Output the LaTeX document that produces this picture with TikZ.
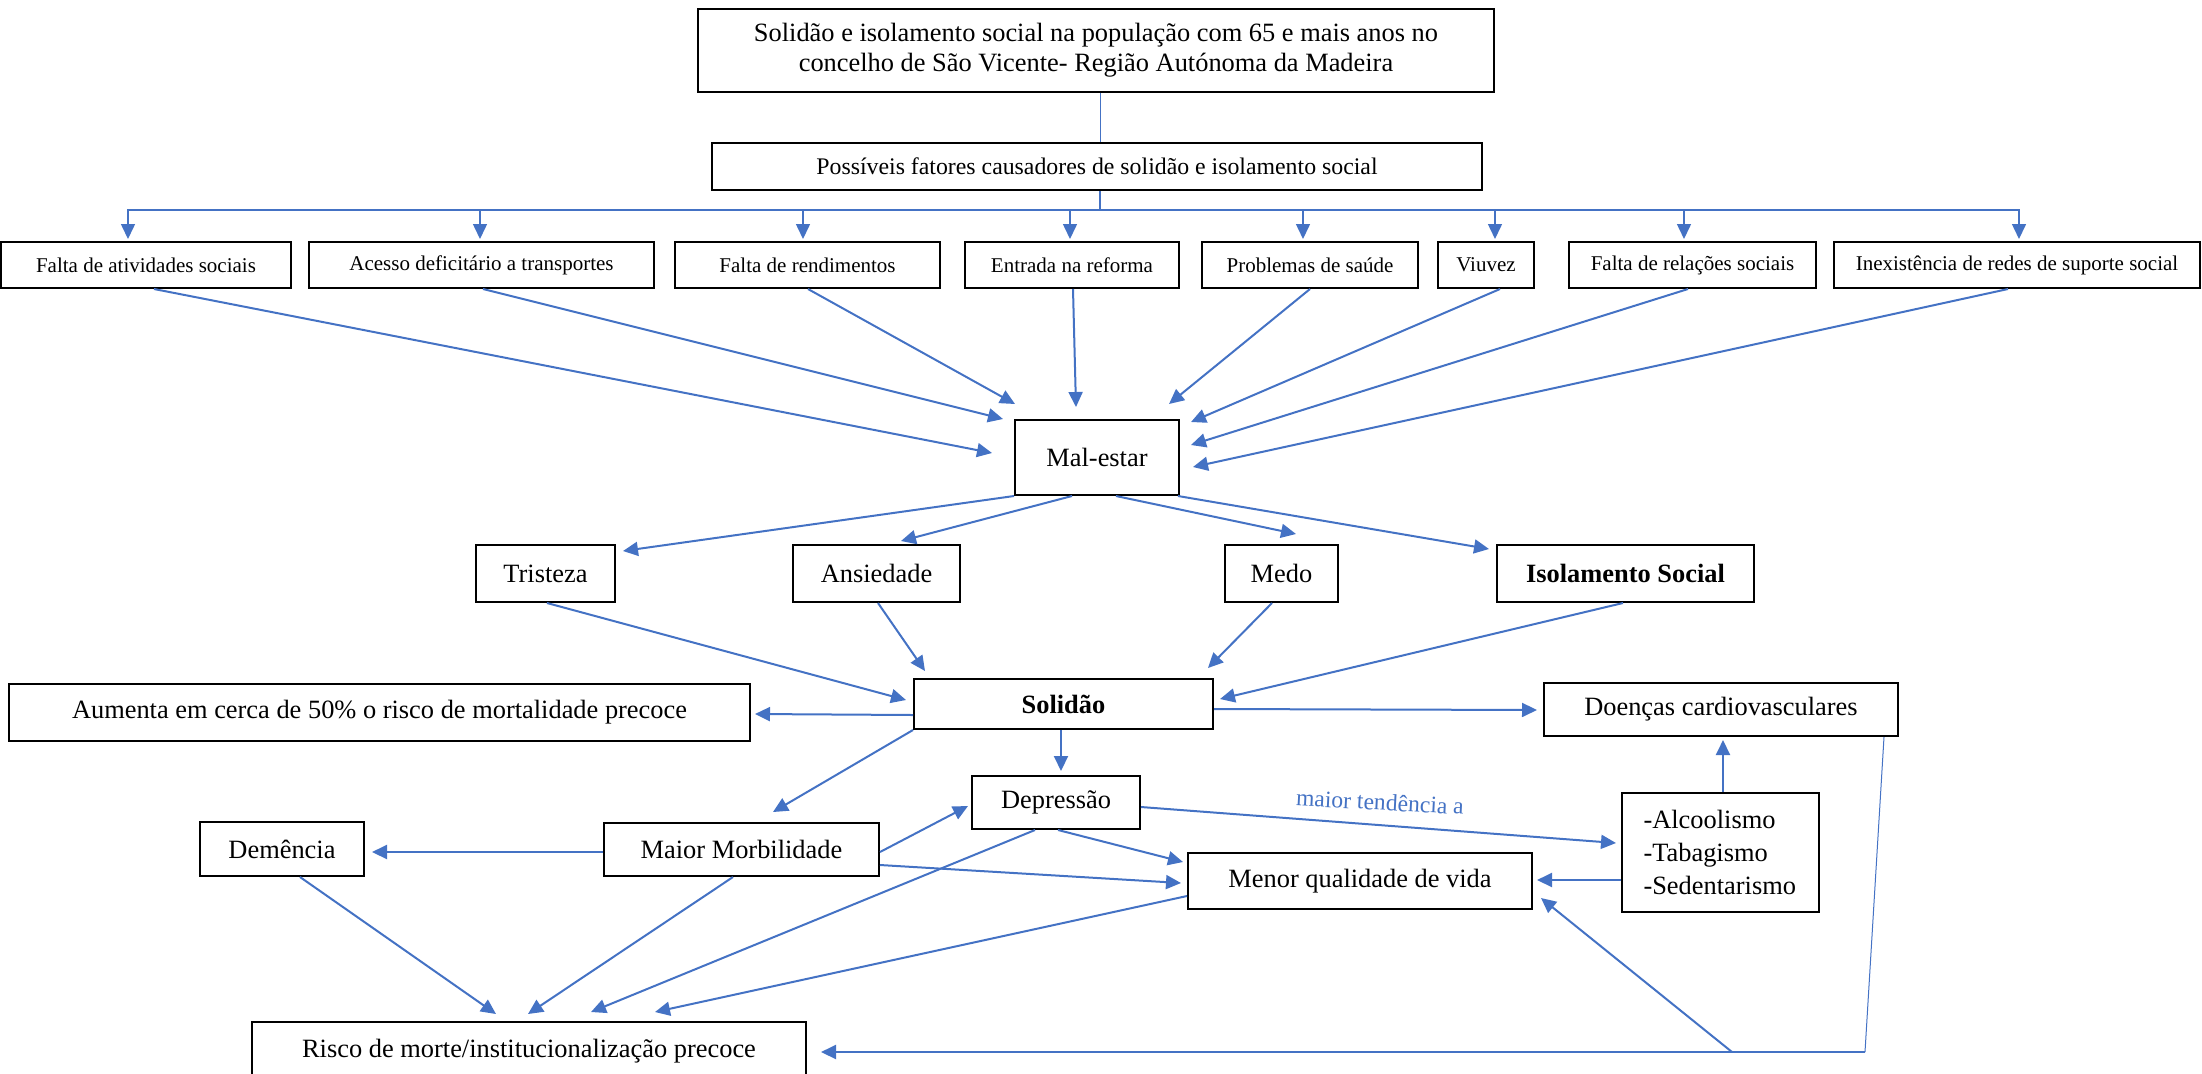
\documentclass[tikz,border=0pt]{standalone}
\usepackage{fontspec}
\setmainfont{Liberation Serif}
\usetikzlibrary{arrows.meta,calc}
\definecolor{lnblue}{HTML}{4472C4}
\begin{document}
\begin{tikzpicture}[x=0.5pt,y=-0.5pt,
  bx/.style={draw=black, line width=1pt, inner sep=0pt, align=center, font=\fontsize{13.2}{15}\selectfont},
  rowbx/.style={bx, font=\fontsize{10.5}{12}\selectfont, minimum height=23pt},
  midbx/.style={bx, minimum height=28.5pt},
  arr/.style={draw=lnblue, line width=1pt, -{Triangle[length=7.5pt,width=7pt]}},
  busarr/.style={draw=lnblue, line width=0.75pt, -{Triangle[length=7.5pt,width=7pt]}},
  thinln/.style={draw=lnblue, line width=0.5pt},
  lbl/.style={font=\fontsize{11.8}{14}\selectfont, text=lnblue, inner sep=0pt}
]
\useasboundingbox (0,0) rectangle (2202,1073);

% ---- nodes ----
\node[bx, minimum width=398pt, minimum height=41.5pt] (title) at (1096,50)
  {Solidão e isolamento social na população com 65 e mais anos no\\concelho de São Vicente- Região Autónoma da Madeira};
\node[bx, font=\fontsize{11.9}{14}\selectfont, minimum width=385pt, minimum height=23.5pt] (poss) at (1097,166.5)
  {Possíveis fatores causadores de solidão e isolamento social};

\node[rowbx, minimum width=145pt]   (r1) at (146,265)    {Falta de atividades sociais};
\node[rowbx, minimum width=172.5pt] (r2) at (481.5,265)  {Acesso deficitário a transportes};
\node[rowbx, minimum width=132.5pt] (r3) at (807.5,265)  {Falta de rendimentos};
\node[rowbx, minimum width=107pt]   (r4) at (1072,265)   {Entrada na reforma};
\node[rowbx, minimum width=108pt]   (r5) at (1310,265)   {Problemas de saúde};
\node[rowbx, minimum width=48pt]    (r6) at (1486,265)   {Viuvez};
\node[rowbx, minimum width=123.5pt] (r7) at (1692.5,265) {Falta de relações sociais};
\node[rowbx, minimum width=183pt]   (r8) at (2017,265)   {Inexistência de redes de suporte social};

\node[bx, minimum width=82pt, minimum height=37.5pt] (mal) at (1097,457.5) {Mal-estar};

\node[midbx, minimum width=69.5pt]  (tri)  at (545.5,573.5)  {Tristeza};
\node[midbx, minimum width=83.5pt]  (ans)  at (876.5,573.5)  {Ansiedade};
\node[midbx, minimum width=56.5pt]  (medo) at (1281.5,573.5) {Medo};
\node[midbx, minimum width=128.5pt] (iso)  at (1625.5,573.5) {\textbf{Isolamento Social}};

\node[bx, minimum width=149.5pt, minimum height=25pt] (sol) at (1063.5,704) {\textbf{Solidão}};
\node[bx, minimum width=370.5pt, minimum height=28.5pt] (aum) at (379.5,712.5)
  {Aumenta em cerca de 50\% o risco de mortalidade precoce};
\node[bx, minimum width=177pt, minimum height=26.5pt] (doe) at (1721,709.5) {Doenças cardiovasculares};

\node[bx, minimum width=84pt, minimum height=26.5pt] (dep) at (1056,802.5) {Depressão};
\node[bx, minimum width=137.5pt, minimum height=26.5pt] (mor) at (741.5,849.5) {Maior Morbilidade};
\node[bx, minimum width=82pt, minimum height=27pt] (dem) at (282,849) {Demência};
\node[bx, minimum width=172pt, minimum height=28pt] (men) at (1360,881) {Menor qualidade de vida};
\node[bx, minimum width=98.5pt, minimum height=59.5pt] (alc) at (1720.5,852.5)
  {\parbox{77pt}{\fontsize{13.2}{16.5}\selectfont -Alcoolismo\\-Tabagismo\\-Sedentarismo}};
\node[bx, minimum width=277pt, minimum height=29pt] (risco) at (529,1051)
  {Risco de morte/institucionalização precoce};

\node[lbl, rotate=-3] (tend) at (1380,802) {maior tendência a};

% ---- top connectors ----
\draw[thinln] ($(title.south)+(4,0)$) -- ($(poss.north)+(3,0)$);
\draw[draw=lnblue, line width=0.75pt] ($(poss.south)+(3,0)$) -- ++(0,19) coordinate (bus);
\draw[busarr] (bus) -| ($(r1.north)+(-18,-2)$);
\draw[busarr] (bus) -| ($(r2.north)+(-1.5,-2)$);
\draw[busarr] (bus) -| ($(r3.north)+(-4.5,-2)$);
\draw[busarr] (bus) -| ($(r4.north)+(-2,-2)$);
\draw[busarr] (bus) -| ($(r5.north)+(-7,-2)$);
\draw[busarr] (bus) -| ($(r6.north)+(9,-2)$);
\draw[busarr] (bus) -| ($(r7.north)+(-8.5,-2)$);
\draw[busarr] (bus) -| ($(r8.north)+(2,-2)$);

% ---- rows to Mal-estar ----
\draw[arr] ($(r1.south)+(8,0)$)   -- ($(mal)+(-105,-4.5)$);
\draw[arr] ($(r2.south)+(1.5,0)$) -- ($(mal)+(-94,-38.5)$);
\draw[arr] ($(r3.south)+(0.5,0)$) -- ($(mal)+(-82,-53.5)$);
\draw[arr] ($(r4.south)+(1,0)$)   -- ($(mal)+(-21,-50.5)$);
\draw[arr] ($(r5.south)+(0,0)$)   -- ($(mal)+(72,-53.5)$);
\draw[arr] ($(r6.south)+(14,0)$)  -- ($(mal)+(94,-35.5)$);
\draw[arr] ($(r7.south)+(-4.5,0)$) -- ($(mal)+(94,-12.5)$);
\draw[arr] ($(r8.south)+(-9,0)$)  -- ($(mal)+(96,9.5)$);

% ---- Mal-estar to middle ----
\draw[arr] (mal.south west) -- ($(tri.north east)+(7,7)$);
\draw[arr] ($(mal.south)+(-25,0)$) -- ($(ans.north)+(24.5,-3)$);
\draw[arr] ($(mal.south)+(19,0)$) -- ($(medo.north)+(14.5,-10)$);
\draw[arr] ($(mal.south east)+(-2,0)$) -- ($(iso.north west)+(-7,5)$);

% ---- middle to Solidão ----
\draw[arr] ($(tri.south)+(1.5,0)$) -- ($(sol.west)+(-7,-4)$);
\draw[arr] ($(ans.south)+(1.5,0)$) -- ($(sol.north west)+(12,-7)$);
\draw[arr] ($(medo.south)+(-9.5,0)$) -- ($(sol.north east)+(-6,-10)$);
\draw[arr] ($(iso.south)+(-2.5,0)$) -- ($(sol.east)+(6,-5)$);

% ---- from Solidão ----
\draw[arr] ($(sol.west)+(0,11)$) -- ($(aum.east)+(4,1.5)$);
\draw[arr] ($(sol.east)+(0,5)$) -- ($(doe.west)+(-6,0.5)$);
\draw[arr] ($(sol.south)+(-2.5,0)$) -- ($(dep.north)+(5,-4)$);
\draw[arr] (sol.south west) -- ($(mor.north)+(31.5,-10)$);

% ---- lower connectors ----
\draw[arr] ($(mor.west)+(0,2.5)$) -- ($(dem.east)+(7,3)$);
\draw[arr] ($(mor.east)+(0,2.5)$) -- ($(dep.west)+(-3,3.5)$);
\draw[arr] ($(mor.east)+(0,15.5)$) -- ($(men.west)+(-6,2)$);
\draw[arr] ($(dep.south)+(2,0)$) -- ($(men.north west)+(-4,10)$);
\draw[arr] ($(dep.east)+(0,4.5)$) -- ($(alc.west)+(-5,-9.5)$);
\draw[arr] ($(alc.west)+(0,27.5)$) -- ($(men.east)+(4,-1)$);
\draw[arr] ($(alc.north)+(2.5,0)$) -- ($(doe.south)+(2,3)$);

\draw[arr] ($(dem.south)+(18,0)$) -- ($(risco.north west)+(245,-7)$);
\draw[arr] ($(mor.south)+(-8.5,0)$) -- ($(risco.north west)+(277,-7)$);
\draw[arr] ($(dep.south)+(-21,0)$) -- ($(risco.north west)+(340,-9)$);
\draw[arr] ($(men.south west)+(0,-14)$) -- ($(risco.north west)+(404,-9)$);

% ---- right loop ----
\coordinate (loopA) at (1865,1052);
\coordinate (loopB) at (1732,1052);
\draw[thinln] ($(doe.south east)+(-15,0)$) -- (loopA);
\draw[arr] (loopA) -- ($(risco.east)+(14,1)$);
\draw[arr] (loopB) -- ($(men.south east)+(8,-12)$);
\end{tikzpicture}
\end{document}
